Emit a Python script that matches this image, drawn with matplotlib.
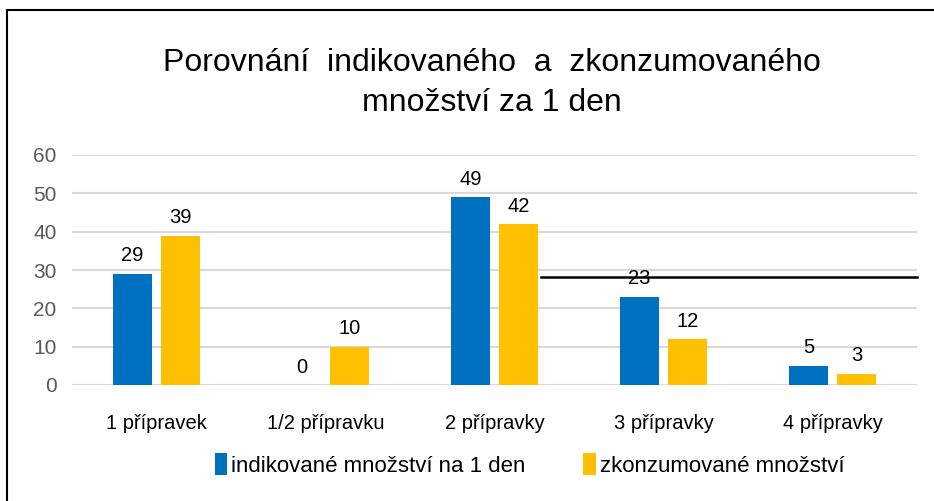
import matplotlib.pyplot as plt
import numpy as np
from matplotlib.patches import Rectangle

plt.rcParams['font.family'] = ['Liberation Sans Narrow', 'Liberation Sans', 'DejaVu Sans']

# data
categories = ['1 přípravek', '1/2 přípravku', '2 přípravky', '3 přípravky', '4 přípravky']
indikovane = [29, 0, 49, 23, 5]
zkonzumovane = [39, 10, 42, 12, 3]
series_names = ['indikované množství na 1 den', 'zkonzumované množství']
title = 'Porovnání  indikovaného  a  zkonzumovaného\nmnožství za 1 den'

blue = '#0070C0'
yellow = '#FFC000'

fig = plt.figure(figsize=(9.34, 5.01), dpi=100)
ax = fig.add_axes([72/934, 1 - 385/501, 845/934, 230/501])

x = np.arange(len(categories))
w = 0.225
off = 0.142
b1 = ax.bar(x - off, indikovane, w, color=blue, label=series_names[0], zorder=3)
b2 = ax.bar(x + off, zkonzumovane, w, color=yellow, label=series_names[1], zorder=3)

for bars, vals in [(b1, indikovane), (b2, zkonzumovane)]:
    for r, v in zip(bars, vals):
        ax.text(r.get_x() + r.get_width()/2, v + 2.2, str(v), ha='center', va='bottom',
                fontsize=14.5, color='black', zorder=4)

ax.set_xlim(-0.5, 4.5)
ax.set_ylim(0, 60)
ax.set_yticks(range(0, 61, 10))
ax.grid(axis='y', color='#D9D9D9', linewidth=1.5, zorder=0)
ax.tick_params(axis='y', length=0, labelsize=15, labelcolor='#595959', pad=11)
ax.set_xticks(x)
ax.set_xticklabels(categories)
ax.tick_params(axis='x', length=0, labelsize=14.5, pad=21)
for s in ax.spines.values():
    s.set_visible(False)

# stray black line in the original picture
ax.plot([0.555, 1.0], [28.2, 28.2], transform=ax.get_yaxis_transform(), color='black',
        linewidth=1.8, zorder=5, clip_on=False)

fig.text(0.527, 0.765, title, ha='center', va='bottom', fontsize=23, linespacing=1.42)

fig.legend(loc='center', bbox_to_anchor=(0.567, 1 - 465/501), ncol=2, frameon=False,
           fontsize=16, handlelength=0.55, handleheight=1.1, handletextpad=0.2,
           columnspacing=2.6)

# chart border (right and bottom edges lie outside the picture)
fig.patches.append(Rectangle((7/934, -0.1), 1.2, 1.1 - 10/501, transform=fig.transFigure,
                             fill=False, edgecolor='black', linewidth=1.5))

fig.savefig('out.png', dpi=100)
